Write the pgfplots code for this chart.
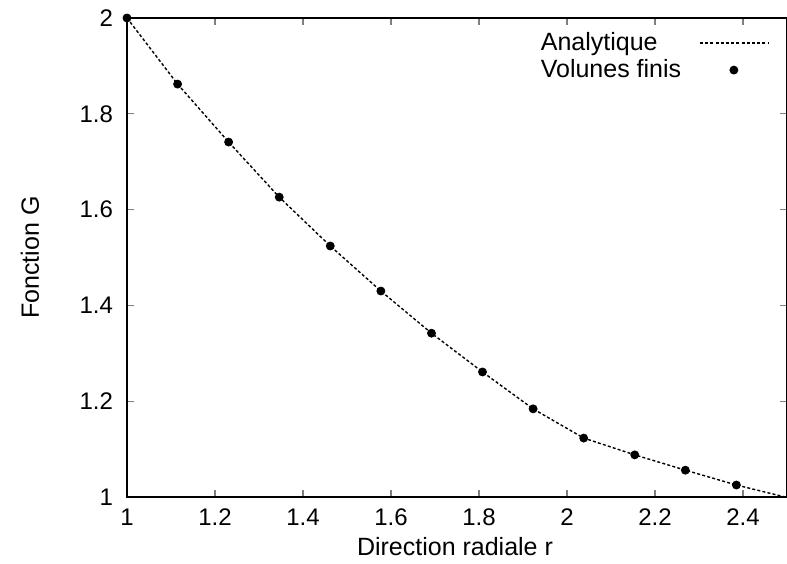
\documentclass[border=0pt]{standalone}
\usepackage{pgfplots}
\pgfplotsset{compat=1.18}
\usepackage{fontspec}
\setmainfont{Liberation Sans}
\pgfplotstableread{
x y
1.000 2.000
1.115 1.862
1.231 1.741
1.346 1.626
1.462 1.524
1.577 1.430
1.692 1.342
1.808 1.261
1.923 1.184
2.038 1.123
2.154 1.088
2.269 1.056
2.385 1.025
2.500 0.999
}\analytic
\pgfplotstableread{
x y
1.000 2.000
1.115 1.862
1.231 1.741
1.346 1.626
1.462 1.524
1.577 1.430
1.692 1.342
1.808 1.261
1.923 1.184
2.038 1.123
2.154 1.088
2.269 1.056
2.385 1.025
}\vf
\pgfplotsset{
  legline/.style={legend image code/.code={\draw[##1] (0pt,0pt) -- (34pt,0pt);}},
  legdot/.style={legend image code/.code={\draw[##1] plot coordinates {(17pt,0pt)};}},
}
\begin{document}
\begin{tikzpicture}
\begin{axis}[
  scale only axis,
  width=330pt, height=239.5pt,
  xmin=1, xmax=2.5, ymin=1, ymax=2,
  xtick={1,1.2,1.4,1.6,1.8,2,2.2,2.4},
  ytick={1,1.2,1.4,1.6,1.8,2},
  tick align=inside,
  major tick length=3.5pt,
  tick style={line width=0.6pt},
  /pgf/number format/assume math mode=true,
  xticklabel style={font=\fontsize{12}{14}\selectfont, yshift=-2.5pt},
  yticklabel style={font=\fontsize{12}{14}\selectfont, xshift=-3.5pt},
  xlabel={Direction radiale r},
  ylabel={Fonction G},
  label style={font=\fontsize{12.5}{14}\selectfont},
  xlabel style={at={(axis description cs:0.497,0)}, anchor=center, yshift=-25pt},
  ylabel style={at={(axis description cs:-0.147,0.5)}, anchor=center},
  axis line style={line width=1pt},
  legend style={draw=none, fill=none, at={(rel axis cs:1,1)}, anchor=north east,
    xshift=-9pt, yshift=-5pt, inner sep=0pt,
    font=\fontsize{12.5}{14}\selectfont, row sep=-1pt,
    nodes={inner sep=2pt},
    /tikz/every odd column/.append style={column sep=7pt}},
  legend cell align=left,
  legend plot pos=right,
  clip=false,
]
\coordinate (sw) at (rel axis cs:0,0);
\coordinate (ne) at (rel axis cs:1,1);
\addplot[black, line width=0.7pt, dash pattern=on 1.5pt off 1.1pt, legline] table[x=x,y=y] {\analytic};
\addlegendentry{Analytique}
\addplot[only marks, mark=*, mark size=2pt, black, legdot] table[x=x,y=y] {\vf};
\addlegendentry{Volunes finis}
\end{axis}
\pgfresetboundingbox
\path[use as bounding box] ([shift={(-63.5pt,-33pt)}]sw) rectangle ([shift={(0pt,9pt)}]ne);
\end{tikzpicture}
\end{document}
